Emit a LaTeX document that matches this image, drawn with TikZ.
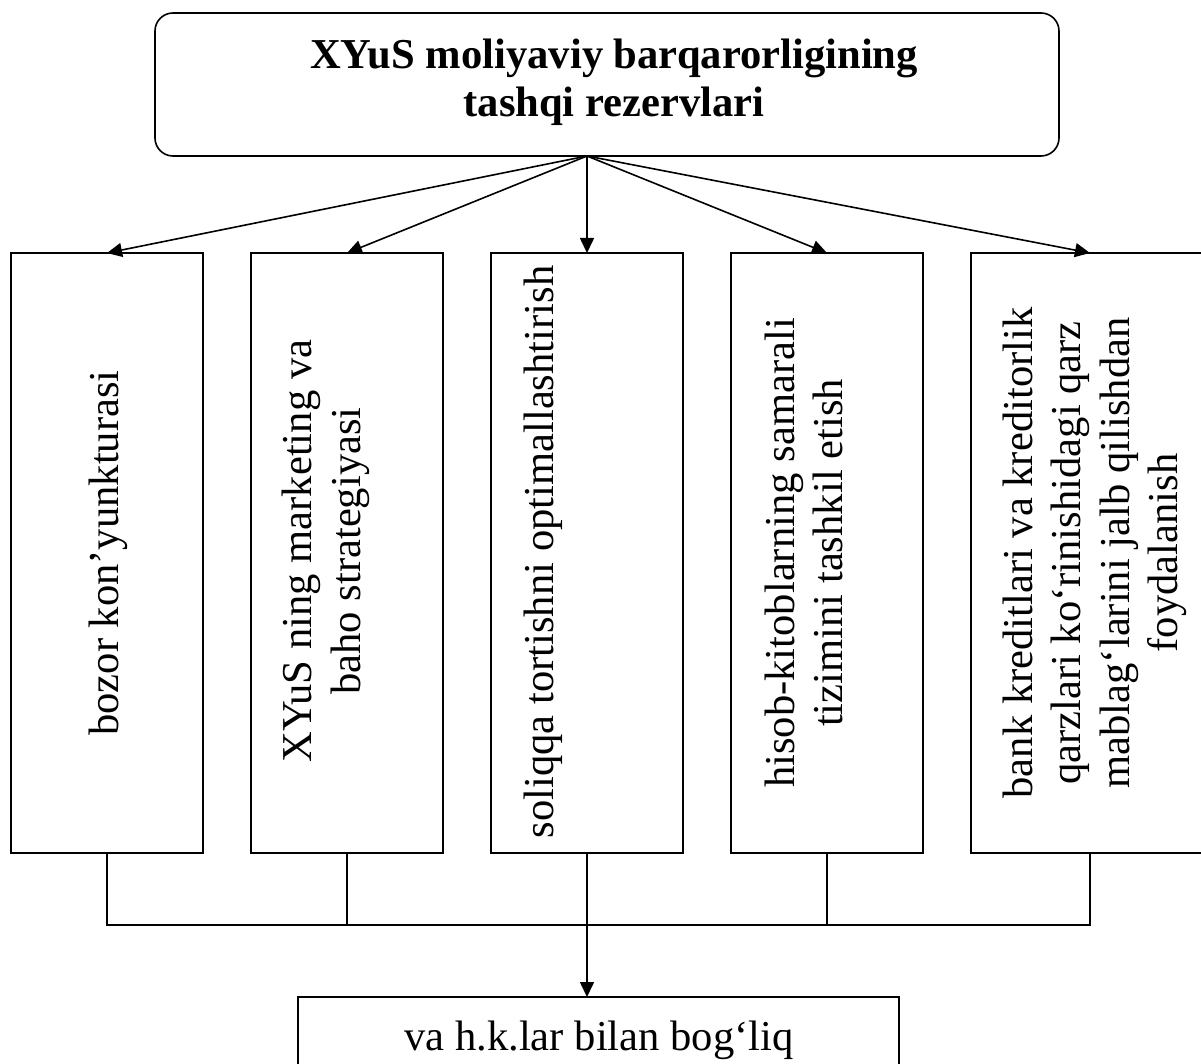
\documentclass[tikz,border=0pt]{standalone}
\usepackage{fontspec}
\setmainfont{Liberation Serif}
\usetikzlibrary{arrows.meta}
\begin{document}
\begin{tikzpicture}[x=0.5pt,y=-0.5pt,
  box/.style={draw,line width=0.8pt,inner sep=0pt,outer sep=0pt},
  txt/.style={font=\fontsize{21.3pt}{24.2pt}\selectfont,align=center,inner sep=0pt},
  vtxt/.style={txt,rotate=90},
  arr/.style={line width=0.8pt,-{Triangle[length=7.5pt,width=7pt]}},
  ln/.style={line width=0.8pt}]
\useasboundingbox (0,0) rectangle (1201,1064);
% top box
\node[box,rounded corners=9pt,minimum width=452pt,minimum height=71.5pt] (top) at (607,84.5) {};
\node[txt,font=\fontsize{21.3pt}{24.2pt}\selectfont\bfseries] (title) at (614,82.4) {XYuS moliyaviy barqarorligining\\tashqi rezervlari};
% five boxes
\node[box,minimum width=96pt,minimum height=300pt] (b1) at (107,553) {};
\node[box,minimum width=96pt,minimum height=300pt] (b2) at (347,553) {};
\node[box,minimum width=96pt,minimum height=300pt] (b3) at (587,553) {};
\node[box,minimum width=96pt,minimum height=300pt] (b4) at (827,553) {};
\node[box,minimum width=119pt,minimum height=300pt] (b5) at (1090,553) {};
% texts
\node[vtxt] (t1) at (108,553) {bozor kon’yunkturasi};
\node[vtxt] (t2) at (326,551) {XYuS ning marketing va\\baho strategiyasi};
\node[vtxt] (t3) at (543.5,552) {soliqqa tortishni optimallashtirish};
\node[vtxt] (t4) at (804,553) {hisob-kitoblarning samarali\\tizimini tashkil etish};
\node[vtxt] (t5) at (1095,553) {bank kreditlari va kreditorlik\\qarzlari ko‘rinishidagi qarz\\mablag‘larini jalb qilishdan\\foydalanish};
% bottom box
\node[box,minimum width=300.5pt,minimum height=46.5pt] (bot) at (598.5,1043.5) {};
\node[txt] (bt) at (599,1040) {va h.k.lar bilan bog‘liq};
% connectors
\coordinate (fan) at (b3.north |- top.south);
\foreach \b in {b1,b2,b3,b4,b5} \draw[arr] (fan) -- (\b.north);
\coordinate (bus) at (587,925);
\draw[ln] (b1.south) |- (bus) -| (b5.south);
\draw[ln] (b2.south) -- (b2.south |- bus);
\draw[ln] (b4.south) -- (b4.south |- bus);
\draw[arr] (b3.south) -- (b3.south |- bot.north);
\end{tikzpicture}
\end{document}
